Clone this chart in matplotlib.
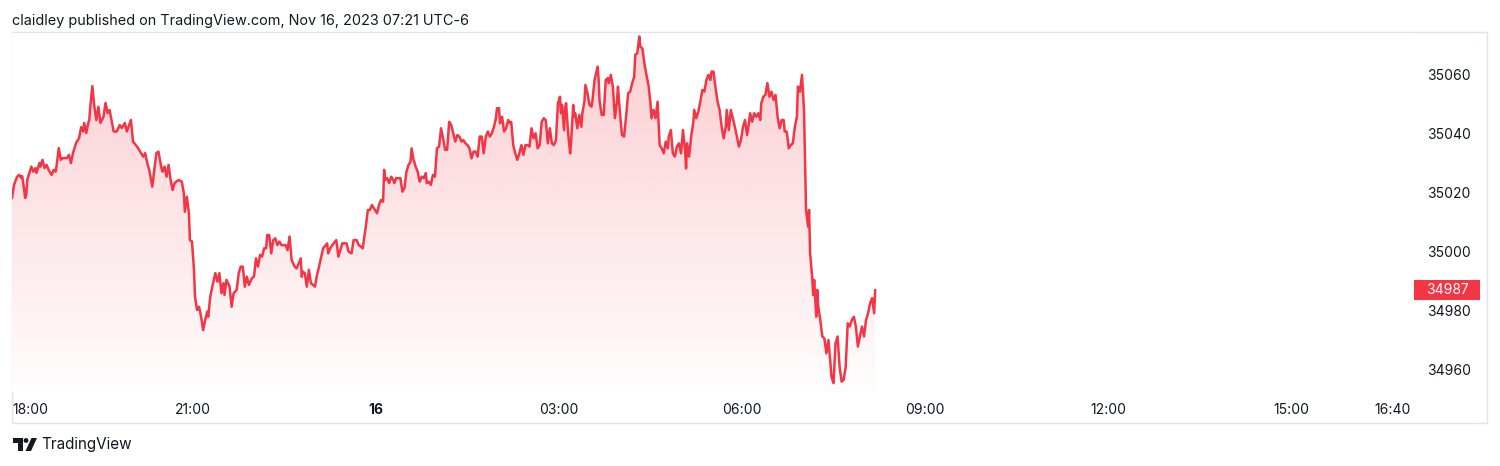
import numpy as np
import matplotlib
matplotlib.use("Agg")
import matplotlib.pyplot as plt
from matplotlib.patches import PathPatch, Rectangle, Polygon, Circle
from matplotlib.path import Path
from matplotlib.transforms import blended_transform_factory

# ---------------- data (minutes after 18:00, Nov 15 -> Nov 16) ----------------
minutes = [2, 4, 7, 9, 11, 12, 13, 15, 16, 17, 20, 21, 23, 25, 26, 29, 30, 32, 34, 36,
           38, 41, 43, 45, 46, 48, 50, 52, 56, 58, 60, 62, 65, 68, 70, 72, 73, 75, 77, 78,
           79, 81, 83, 85, 87, 89, 92, 94, 96, 98, 102, 105, 108, 110, 113, 115, 119, 121, 125, 128,
           131, 133, 135, 137, 140, 142, 144, 146, 149, 150, 152, 154, 156, 158, 160, 162, 166, 169, 171, 172,
           174, 176, 177, 179, 181, 182, 184, 186, 188, 190, 192, 194, 195, 197, 199, 202, 204, 206, 208, 210,
           211, 213, 216, 218, 220, 223, 225, 227, 229, 231, 233, 235, 238, 240, 242, 244, 246, 248, 250, 252,
           253, 255, 257, 259, 261, 263, 265, 267, 271, 273, 275, 277, 280, 282, 284, 286, 287, 288, 290, 292,
           294, 296, 300, 302, 304, 308, 312, 313, 315, 317, 321, 323, 325, 327, 331, 333, 336, 338, 341, 343,
           345, 347, 349, 350, 352, 354, 356, 358, 361, 363, 365, 367, 368, 369, 371, 373, 375, 377, 378, 380,
           384, 386, 388, 390, 392, 394, 395, 397, 399, 401, 403, 405, 407, 409, 410, 412, 414, 416, 418, 420,
           422, 424, 426, 428, 430, 432, 434, 436, 438, 440, 442, 444, 446, 448, 450, 452, 454, 456, 458, 460,
           462, 464, 466, 468, 470, 472, 474, 476, 478, 479, 481, 482, 484, 486, 488, 490, 492, 493, 495, 497,
           499, 501, 503, 505, 507, 509, 511, 513, 515, 517, 519, 521, 523, 525, 527, 529, 531, 533, 535, 537,
           539, 541, 542, 543, 545, 546, 547, 549, 551, 552, 554, 555, 556, 558, 560, 562, 563, 565, 566, 568,
           570, 572, 573, 575, 578, 579, 580, 582, 584, 586, 588, 589, 591, 593, 595, 597, 598, 600, 602, 604,
           606, 608, 610, 612, 614, 615, 617, 619, 620, 622, 624, 626, 628, 630, 631, 633, 635, 637, 639, 641,
           643, 645, 647, 648, 650, 652, 654, 656, 658, 660, 662, 664, 665, 666, 668, 670, 672, 673, 675, 677,
           679, 681, 683, 685, 687, 689, 690, 692, 694, 696, 698, 700, 702, 704, 705, 707, 709, 711, 713, 715,
           717, 719, 721, 723, 725, 727, 728, 730, 732, 734, 736, 738, 739, 741, 743, 745, 747, 749, 751, 753,
           755, 757, 759, 761, 762, 764, 766, 768, 770, 772, 774, 775, 777, 778, 779, 781, 782, 783, 785, 786,
           787, 789, 790, 791, 793, 794, 795, 797, 799, 801, 803, 805, 807, 808, 810, 812, 814, 816, 818, 820,
           822, 824, 826, 828, 830, 832, 834, 836, 838, 840, 842, 844, 846, 848, 850, 851]

price = [35018.3, 35022.7, 35025.5, 35026.1, 35025.1, 35025.7, 35023.4, 35018.3, 35019.3, 35024.4,
         35027.8, 35028.9, 35027.2, 35028.4, 35026.8, 35030.1, 35028.9, 35031.2, 35028.4, 35029.5,
         35027.8, 35026.1, 35027.8, 35027.2, 35029.5, 35035.2, 35031.2, 35031.8, 35031.8, 35032.9,
         35030.1, 35033.5, 35036.9, 35038.6, 35042.3, 35040.8, 35043.7, 35040.3, 35043.7, 35044.7,
         35049.2, 35056.2, 35049.2, 35044.7, 35049.2, 35043.7, 35045.8, 35050.5, 35047.1, 35048.1,
         35040.8, 35040.8, 35043.0, 35042.0, 35043.7, 35040.8, 35044.7, 35037.4, 35035.7, 35034.0,
         35032.3, 35033.5, 35030.1, 35027.8, 35022.1, 35027.8, 35033.5, 35034.0, 35028.4, 35027.2,
         35028.9, 35025.5, 35029.5, 35024.4, 35021.0, 35023.4, 35024.4, 35023.8, 35020.0, 35013.6,
         35018.7, 35013.2, 35004.0, 35003.5, 34993.9, 34984.8, 34980.3, 34981.4, 34978.0, 34973.5,
         34976.9, 34979.7, 34978.0, 34984.8, 34988.2, 34992.8, 34989.9, 34992.8, 34986.0, 34989.4,
         34985.4, 34990.5, 34988.2, 34981.4, 34986.0, 34987.1, 34992.8, 34995.0, 34995.0, 34988.2,
         34991.6, 34988.8, 34991.1, 34991.6, 34997.8, 34995.0, 34999.0, 34998.4, 35001.2, 35001.2,
         35005.7, 35005.7, 34999.5, 35004.0, 35004.6, 35002.3, 35003.5, 35002.3, 35002.3, 35000.6,
         35005.2, 34997.3, 34995.0, 34994.4, 34996.1, 34997.8, 34991.6, 34993.3, 34992.8, 34988.2,
         34993.9, 34989.4, 34988.2, 34992.2, 34995.0, 35001.2, 35002.9, 34999.5, 35001.2, 35002.3,
         35004.0, 34998.4, 35000.6, 35002.9, 35002.9, 35000.1, 34999.5, 35004.0, 35004.0, 35002.3,
         35001.8, 35001.2, 35006.3, 35008.5, 35014.2, 35014.2, 35015.9, 35014.8, 35013.1, 35015.9,
         35017.6, 35017.0, 35027.8, 35024.4, 35025.0, 35023.3, 35025.5, 35024.4, 35023.3, 35025.0,
         35025.0, 35020.4, 35021.6, 35027.2, 35029.5, 35030.6, 35035.1, 35031.2, 35028.9, 35027.2,
         35023.8, 35025.5, 35025.0, 35026.7, 35023.3, 35023.8, 35022.7, 35026.1, 35025.5, 35035.1,
         35035.7, 35041.9, 35038.5, 35034.6, 35034.6, 35044.1, 35043.0, 35040.2, 35037.4, 35039.6,
         35039.1, 35037.4, 35037.9, 35036.8, 35036.2, 35035.1, 35031.7, 35034.0, 35034.0, 35032.3,
         35039.1, 35039.1, 35033.4, 35039.1, 35040.8, 35039.1, 35040.2, 35042.4, 35045.3, 35048.7,
         35048.7, 35043.6, 35045.8, 35040.8, 35041.9, 35044.7, 35043.6, 35044.1, 35036.2, 35033.4,
         35031.2, 35033.4, 35036.2, 35032.9, 35036.2, 35036.2, 35035.7, 35041.9, 35038.5, 35040.2,
         35035.1, 35036.2, 35044.1, 35045.3, 35044.7, 35036.8, 35041.9, 35036.8, 35036.2, 35037.9,
         35050.4, 35052.6, 35047.0, 35049.8, 35041.3, 35048.7, 35050.4, 35040.2, 35033.4, 35037.9,
         35049.8, 35045.8, 35047.0, 35041.9, 35046.4, 35042.4, 35047.0, 35050.9, 35056.6, 35053.8,
         35049.8, 35049.2, 35051.5, 35058.3, 35062.8, 35058.3, 35050.9, 35046.4, 35046.4, 35058.3,
         35058.9, 35057.2, 35060.0, 35056.0, 35045.3, 35050.9, 35056.0, 35047.0, 35039.6, 35039.1,
         35045.8, 35053.8, 35054.3, 35057.2, 35059.4, 35066.8, 35067.3, 35073.0, 35069.6, 35069.0,
         35063.9, 35060.0, 35056.6, 35050.4, 35045.3, 35048.1, 35045.3, 35050.9, 35036.2, 35035.1,
         35033.4, 35037.4, 35035.1, 35039.1, 35041.3, 35033.4, 35032.3, 35035.7, 35036.8, 35033.4,
         35041.3, 35034.6, 35028.3, 35036.8, 35032.3, 35039.1, 35043.6, 35048.1, 35045.3, 35047.5,
         35050.9, 35054.9, 35054.3, 35058.3, 35060.0, 35058.3, 35061.1, 35061.1, 35055.5, 35050.9,
         35048.1, 35042.4, 35038.5, 35042.4, 35048.1, 35041.3, 35048.1, 35045.3, 35042.4, 35039.1,
         35035.7, 35037.9, 35042.4, 35044.7, 35039.6, 35044.1, 35047.0, 35044.1, 35047.0, 35045.8,
         35047.0, 35044.7, 35050.4, 35052.6, 35053.2, 35057.2, 35052.6, 35054.3, 35051.5, 35053.2,
         35045.8, 35041.9, 35044.7, 35044.7, 35040.8, 35040.8, 35035.1, 35036.2, 35036.8, 35042.4,
         35045.8, 35056.0, 35054.3, 35057.2, 35060.0, 35048.1, 35031.2, 35014.2, 35008.5, 35014.2,
         34999.5, 34991.6, 34985.4, 34990.5, 34978.0, 34987.1, 34981.4, 34976.9, 34971.3, 34970.7,
         34965.6, 34970.1, 34962.2, 34957.7, 34955.5, 34969.0, 34971.3, 34961.1, 34956.0, 34956.6,
         34961.1, 34975.8, 34974.7, 34976.9, 34978.0, 34974.7, 34967.9, 34971.3, 34974.7, 34971.3,
         34976.9, 34979.2, 34982.6, 34984.3, 34979.2, 34987.0]

last_price = 34987
price_ticks = [34960, 34980, 35000, 35020, 35040, 35060]
time_tick_minutes = [180, 360, 540, 720, 900, 1080, 1260, 1360]
time_tick_labels = ["21:00", "16", "03:00", "06:00", "09:00", "12:00", "15:00", "16:40"]
first_time_label = "18:00"
header_text = "claidley published on TradingView.com, Nov 16, 2023 07:21 UTC-6"
footer_text = "TradingView"

# ---------------- style ----------------
RED = "#F23645"
TXT = "#131722"
FONT = "Inter"
W, H = 1500, 466
plt.rcParams["font.family"] = [FONT, "DejaVu Sans"]
LBL = 10.0

fig = plt.figure(figsize=(W / 100, H / 100), dpi=100)
fig.patch.set_facecolor("white")

# pane in pixel coords
PL, PR, PT, PB = 12, 1412, 33, 392
ax = fig.add_axes([PL / W, 1 - PB / H, (PR - PL) / W, (PB - PT) / H])
ax.set_facecolor("white")

t = np.array(minutes, dtype=float)
p = np.array(price, dtype=float)

XMIN, XMAX = 2, 1379
YMIN, YMAX = 34952.5, 35074.2

# gradient area
xs = np.concatenate([[t[0]], t, [t[-1]]])
ys = np.concatenate([[YMIN], p, [YMIN]])
path = Path(np.column_stack([xs, ys]))
patch = PathPatch(path, facecolor="none", edgecolor="none")
ax.add_patch(patch)
n = 256
rgba = np.zeros((n, 1, 4))
rgba[..., 0] = 242 / 255
rgba[..., 1] = 54 / 255
rgba[..., 2] = 69 / 255
rgba[:, 0, 3] = np.linspace(0.25, 0.01, n)
im = ax.imshow(rgba, extent=[t.min(), t.max(), YMIN, p.max()], aspect="auto",
               origin="upper", zorder=1, interpolation="bilinear")
im.set_clip_path(patch)

ax.plot(t, p, color=RED, lw=1.8, zorder=3, solid_joinstyle="round")

ax.set_xlim(XMIN, XMAX)
ax.set_ylim(YMIN, YMAX)
for s in ax.spines.values():
    s.set_visible(False)

# price axis on right
ax.yaxis.tick_right()
ax.set_yticks(price_ticks)
ax.set_yticklabels([str(v) for v in price_ticks])
ax.tick_params(axis="y", length=0, pad=11, labelsize=LBL, labelcolor=TXT)
for lab in ax.get_yticklabels():
    lab.set_horizontalalignment("left")

# time axis
ax.set_xticks(time_tick_minutes)
ax.set_xticklabels(time_tick_labels)
ax.tick_params(axis="x", length=0, pad=8, labelsize=LBL, labelcolor=TXT)
for lab in ax.get_xticklabels():
    if lab.get_text() == "16":
        lab.set_fontweight("bold")
ax.text(0, -0.0306, first_time_label, transform=ax.transAxes, ha="left", va="top",
        fontsize=LBL, color=TXT)

# last-price badge
btr = blended_transform_factory(fig.transFigure, ax.transData)
bh = 20 / ((PB - PT) / (YMAX - YMIN))
ax.add_patch(Rectangle((1414 / W, last_price - bh / 2), 66 / W, bh, transform=btr,
                       facecolor=RED, edgecolor="none", clip_on=False, zorder=5))
ax.text(1447 / W, last_price, str(last_price), transform=btr, ha="center", va="center",
        color="white", fontsize=LBL, zorder=6, clip_on=False)

# overlay for frame, header, footer
ov = fig.add_axes([0, 0, 1, 1], zorder=-1)
ov.set_xlim(0, W)
ov.set_ylim(H, 0)
ov.axis("off")
ov.patch.set_alpha(0)
ov.add_patch(Rectangle((12, 32), 1475, 391, facecolor="none", edgecolor="#E0E3EB", lw=1))

fig.text(12 / W, 1 - 20.5 / H, header_text, ha="left", va="center", fontsize=10.4, color=TXT)

# footer logo
ov2 = fig.add_axes([0, 0, 1, 1], zorder=10)
ov2.set_xlim(0, W)
ov2.set_ylim(H, 0)
ov2.axis("off")
ov2.patch.set_alpha(0)
ov2.add_patch(Polygon([(12.5, 438), (22.5, 438), (22.5, 451), (18, 451), (18, 442.5), (12.5, 442.5)],
                      closed=True, facecolor=TXT, edgecolor="none"))
ov2.add_patch(Circle((26, 440.5), 2.4, facecolor=TXT, edgecolor="none"))
ov2.add_patch(Polygon([(31.5, 438), (37, 438), (31, 451), (25.5, 451)],
                      closed=True, facecolor=TXT, edgecolor="none"))
fig.text(41 / W, 1 - 445 / H, footer_text, ha="left", va="center", fontsize=11.0, color=TXT)

fig.savefig("out.png", dpi=100, facecolor="white")
